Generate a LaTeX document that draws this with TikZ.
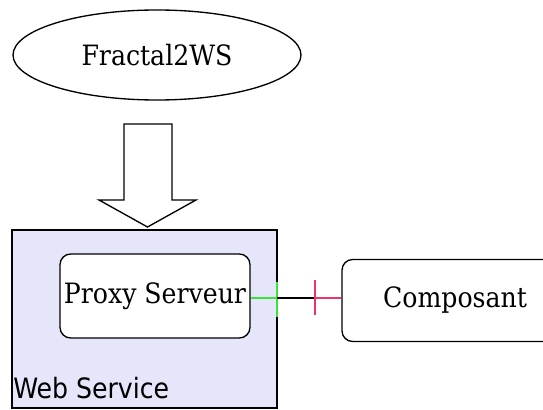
\documentclass[tikz,border=0pt]{standalone}
\usepackage{fontspec}
\setmainfont{DejaVu Serif Condensed}
\setsansfont{DejaVu Sans Condensed}
\usetikzlibrary{shapes.geometric}

\definecolor{wsfill}{RGB}{230,230,250}
\definecolor{portgreen}{RGB}{60,225,60}
\definecolor{portred}{RGB}{240,50,110}

\begin{document}
\begin{tikzpicture}[x=0.75pt, y=-0.75pt, line width=1pt,
    font=\fontsize{21}{25}\selectfont]
            \useasboundingbox (0,0) rectangle (543,410);
            \clip (0,0) rectangle (543,410);

            \node[draw, ellipse, minimum width=216pt, minimum height=67.5pt, inner sep=0pt] (f2ws) at (157,55) {Fractal2WS};

            % big arrow
            \draw (124,124) -- (172,124) -- (172,200) -- (196,200) -- (147.5,227)
                -- (99,200) -- (124,200) -- cycle;

            \node[draw, rectangle, fill=wsfill, minimum width=198.75pt, minimum height=133.5pt] (ws) at (144.5,319) {};
            \node[anchor=base west, inner sep=0pt, xshift=1pt, yshift=7.5pt, font=\fontsize{21}{25}\sffamily] (wslabel) at (ws.south west) {Web Service};

            \node[draw, rectangle, rounded corners=8pt, fill=white, minimum width=142.5pt, minimum height=63pt, inner sep=0pt] (proxy) at (155,296) {Proxy Serveur};
            \node[draw, rectangle, rounded corners=8pt, minimum width=169.5pt, minimum height=61.5pt] (comp) at (455,300.5) {Composant};

            \coordinate (gport) at (277,298);
            \coordinate (rport) at (315,298);

            \draw[portgreen, line width=1.2pt] (proxy.east |- gport) -- (gport);
            \draw[portgreen, line width=1.2pt] (gport) ++(0,-16) -- ++(0,35);
            \draw (gport) -- (rport);
            \draw[portred, line width=1.2pt] (rport) ++(0,-18) -- ++(0,35);
            \draw[portred, line width=1.2pt] (rport) -- (comp.west |- rport);
        \end{tikzpicture}
\end{document}
